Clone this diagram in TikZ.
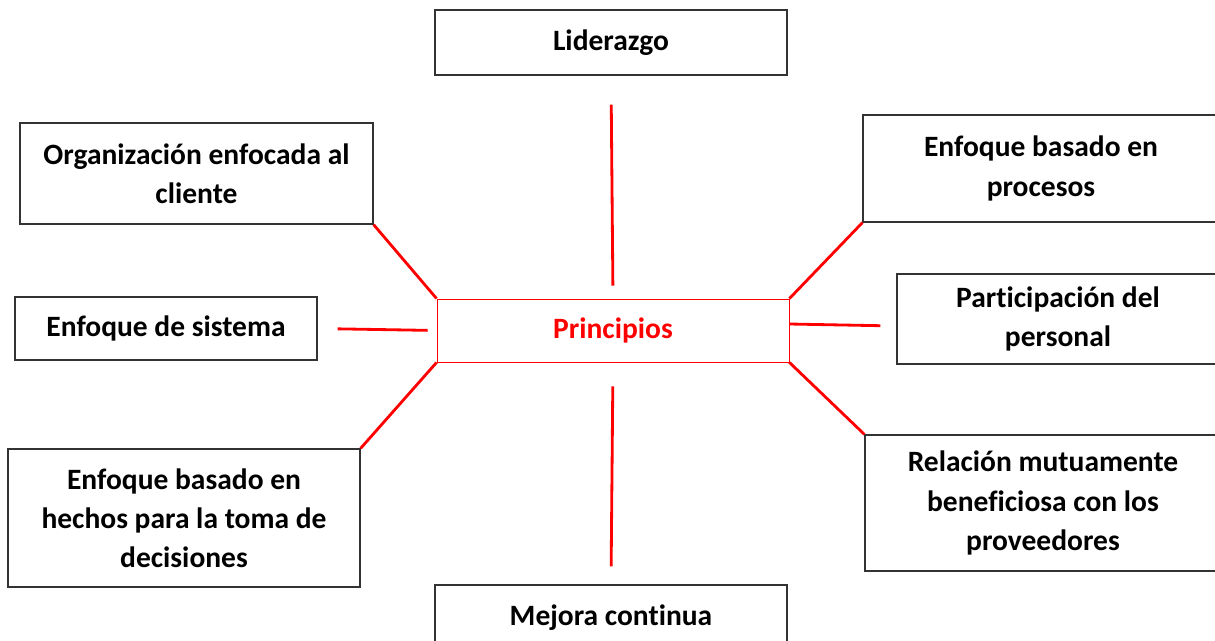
\documentclass[tikz,border=0pt]{standalone}
\usepackage{fontspec}
\setmainfont{Carlito}[Ligatures=NoCommon]
\begin{document}
\begin{tikzpicture}[x=0.02cm,y=-0.02cm,
  caja/.style={draw=black!80,line width=0.7pt,align=center,inner sep=0pt,
    font=\fontsize{16.8}{22.3}\selectfont\bfseries},
  centro/.style={caja,draw=red,line width=0.5pt,text=red},
  enlace/.style={draw=red,line width=1.6pt}]
\useasboundingbox (0,0) rectangle (1215,640);
\clip (0,0) rectangle (1215,640);

%cajas de arriba y abajo
\node[caja,minimum width=7.04cm,minimum height=1.3cm] (lid) at (611,42.5) {Liderazgo};
\node[caja,minimum width=7.04cm,minimum height=1.3cm] (mej) at (611,617.5) {Mejora continua};

%caja central
\node[centro,minimum width=7.04cm,minimum height=1.26cm] (cen) at (613,330.5) {Principios};

%lado izquierdo
\node[caja,minimum width=7.06cm,minimum height=2.02cm] (org) at (196.5,173.5) {Organización enfocada al\\cliente};
\node[caja,minimum width=6.04cm,minimum height=1.26cm] (sis) at (166,328.5) {Enfoque de sistema};
\node[caja,minimum width=7.04cm,minimum height=2.76cm] (hec) at (184,518) {Enfoque basado en\\hechos para la toma de\\decisiones};

%lado derecho
\node[caja,minimum width=7.12cm,minimum height=2.14cm] (pro) at (1041,168.5) {Enfoque basado en\\procesos};
\node[caja,minimum width=6.44cm,minimum height=1.8cm] (par) at (1058,319) {Participación del\\personal};
\node[caja,minimum width=7.12cm,minimum height=2.72cm] (rel) at (1043,503) {Relación mutuamente\\beneficiosa con los\\proveedores};

%lineas rojas
\draw[enlace,shorten <=0.58cm,shorten >=0.26cm] (lid.south) -- (cen.north);
\draw[enlace,shorten <=0.48cm,shorten >=0.36cm] (cen.south) -- (mej.north);
\draw[enlace] (org.south east) -- (cen.north west);
\draw[enlace,shorten <=0.4cm,shorten >=0.18cm] (sis.east) -- (cen.west);
\draw[enlace] (cen.south west) -- (hec.north east);
\draw[enlace] (cen.north east) -- (pro.south west);
\draw[enlace,shorten >=0.32cm] ([yshift=0.13cm]cen.east) -- ([yshift=-0.14cm]par.west);
\draw[enlace] (cen.south east) -- (rel.north west);

\end{tikzpicture}
\end{document}
